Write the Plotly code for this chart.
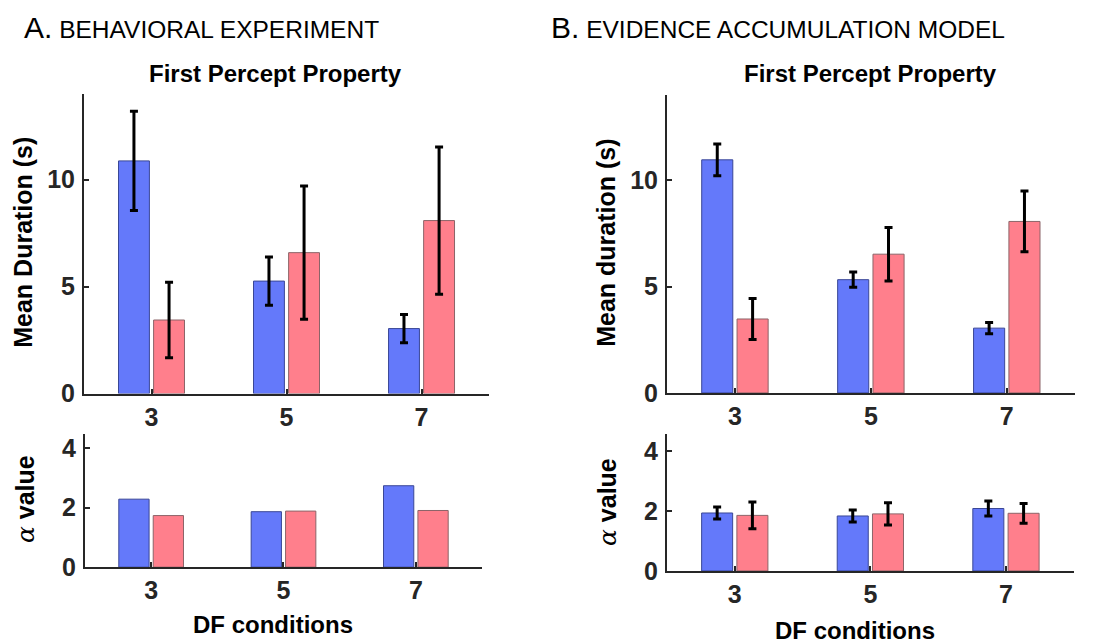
import plotly.graph_objects as go

categories = ["3", "5", "7"]

# Panel A (behavioral experiment)
beh_dur_blue = [10.88, 5.26, 3.04]
beh_dur_blue_err = [2.32, 1.13, 0.66]
beh_dur_red = [3.44, 6.59, 8.09]
beh_dur_red_err = [1.76, 3.12, 3.44]
beh_alpha_blue = [2.28, 1.86, 2.73]
beh_alpha_red = [1.73, 1.88, 1.90]

# Panel B (evidence accumulation model)
mod_dur_blue = [10.97, 5.33, 3.05]
mod_dur_blue_err = [0.75, 0.36, 0.27]
mod_dur_red = [3.48, 6.53, 8.07]
mod_dur_red_err = [0.97, 1.26, 1.43]
mod_alpha_blue = [1.94, 1.84, 2.09]
mod_alpha_blue_err = [0.20, 0.20, 0.25]
mod_alpha_red = [1.86, 1.91, 1.93]
mod_alpha_red_err = [0.45, 0.37, 0.33]

BLUE = "#6479FA"
RED = "#FF7F8C"
BLUE_EDGE = "#3A4796"
RED_EDGE = "#8C6468"
AX = "#262626"
FONT = "Liberation Sans"

fig = go.Figure()


def add_bars(vals, err, color, edge, xa, ya):
    kw = dict(
        x=categories, y=vals, xaxis=xa, yaxis=ya, showlegend=False,
        marker=dict(color=color, line=dict(color=edge, width=1)),
    )
    if err is not None:
        kw["error_y"] = dict(type="data", array=err, visible=True,
                             color="black", thickness=3, width=4)
    fig.add_trace(go.Bar(**kw))


add_bars(beh_dur_blue, beh_dur_blue_err, BLUE, BLUE_EDGE, "x", "y")
add_bars(beh_dur_red, beh_dur_red_err, RED, RED_EDGE, "x", "y")
add_bars(beh_alpha_blue, None, BLUE, BLUE_EDGE, "x2", "y2")
add_bars(beh_alpha_red, None, RED, RED_EDGE, "x2", "y2")
add_bars(mod_dur_blue, mod_dur_blue_err, BLUE, BLUE_EDGE, "x3", "y3")
add_bars(mod_dur_red, mod_dur_red_err, RED, RED_EDGE, "x3", "y3")
add_bars(mod_alpha_blue, mod_alpha_blue_err, BLUE, BLUE_EDGE, "x4", "y4")
add_bars(mod_alpha_red, mod_alpha_red_err, RED, RED_EDGE, "x4", "y4")

tickfont = dict(family=FONT, size=25, color=AX, weight="bold")


def xax(domain, anchor):
    return dict(domain=domain, anchor=anchor, type="category", range=[-0.5, 2.5],
                showline=True, linecolor=AX, linewidth=2, ticks="inside",
                ticklen=5, tickwidth=1.5, tickcolor=AX, tickfont=tickfont,
                showgrid=False, zeroline=False, fixedrange=True,
                ticklabelstandoff=0)


def yax(domain, anchor, rng, dtick):
    return dict(domain=domain, anchor=anchor, range=rng, dtick=dtick,
                showline=True, linecolor=AX, linewidth=2, ticks="inside",
                ticklen=5, tickwidth=1.5, tickcolor=AX, tickfont=tickfont,
                showgrid=False, zeroline=False, ticklabelstandoff=2)


fig.update_layout(
    width=1095, height=643,
    margin=dict(l=0, r=0, t=0, b=0),
    plot_bgcolor="white", paper_bgcolor="white",
    barmode="group", bargap=0.48, bargroupgap=0.12,
    xaxis=xax([0.0694, 0.4393], "y"),
    yaxis=yax([0.387, 0.863], "x", [0, 14], 5),
    xaxis2=xax([0.0703, 0.4329], "y2"),
    yaxis2=yax([0.111, 0.3235], "x2", [0, 4.48], 2),
    xaxis3=xax([0.6018, 0.9742], "y3"),
    yaxis3=yax([0.388, 0.861], "x3", [0, 14], 5),
    xaxis4=xax([0.6018, 0.9733], "y4"),
    yaxis4=yax([0.105, 0.3235], "x4", [0, 4.6], 2),
)

ann = []


def text(x, y, t, size, bold=False, angle=0, xanchor="center", yanchor="middle"):
    ann.append(dict(x=x, y=y, xref="paper", yref="paper", text=t,
                    showarrow=False, textangle=angle, xanchor=xanchor,
                    yanchor=yanchor,
                    font=dict(family=FONT, size=size, color="black",
                              weight="bold" if bold else "normal")))


W, H = 1095, 643
px = lambda v: v / W
py = lambda v: 1 - v / H

text(px(14), py(1), "<span style='font-size:30px'>A.</span> BEHAVIORAL EXPERIMENT", 24.5,
     xanchor="left", yanchor="top")
text(px(541), py(1), "<span style='font-size:30px'>B.</span> EVIDENCE ACCUMULATION MODEL", 24.5,
     xanchor="left", yanchor="top")
text(px(267), py(67), "First Percept Property", 24, bold=True)
text(px(863), py(67), "First Percept Property", 24, bold=True)
text(px(15), py(240), "Mean Duration (s)", 25, bold=True, angle=-90)
text(px(598), py(240), "Mean duration (s)", 25, bold=True, angle=-90)
alpha = "<span style=\"font-family:'DejaVu Serif';font-weight:normal\"><i>α</i></span> value"
text(px(17), py(502), alpha, 25, bold=True, angle=-90)
text(px(599), py(505), alpha, 25, bold=True, angle=-90)
text(px(265), py(630), "DF conditions", 24, bold=True)
text(px(847), py(636), "DF conditions", 24, bold=True)

fig.update_layout(annotations=ann)
fig.write_html("out.html")
